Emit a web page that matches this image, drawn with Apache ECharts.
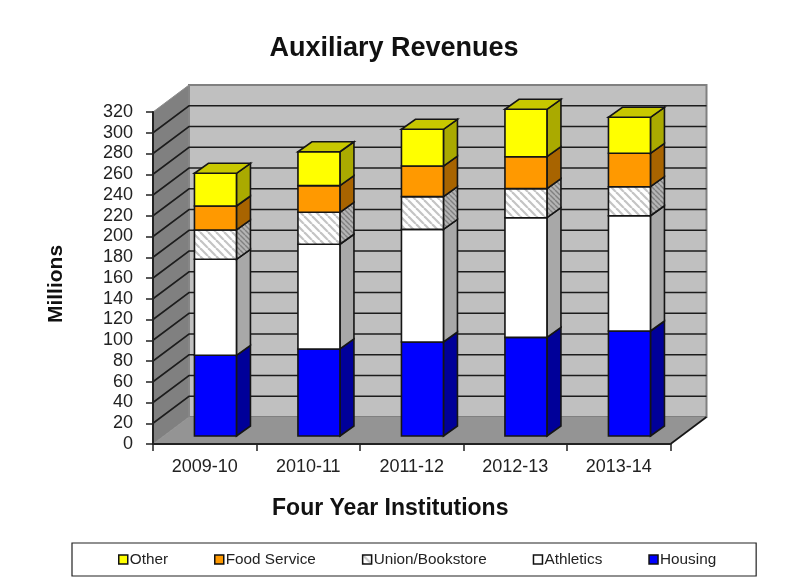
<!DOCTYPE html>
<html>
<head>
<meta charset="utf-8">
<style>html,body{margin:0;padding:0;background:#fff}#c{width:810px;height:584px}</style>
<script src="https://cdn.jsdelivr.net/npm/echarts@6/dist/echarts.min.js"></script>
</head>
<body>
<div id="c"></div>
<script>
const categories = ['2009-10','2010-11','2011-12','2012-13','2013-14'];
const housing   = [77.8, 83.9, 90.6, 95.1, 101.2];
const athletics = [92.5, 100.9, 108.6, 115.3, 111.1];
const union     = [28.3, 30.8, 31.5, 28.0, 28.0];
const food      = [23.1, 25.7, 29.5, 30.8, 32.2];
const other     = [31.5, 32.7, 35.4, 45.7, 34.7];
const gridTicks = [20,40,60,80,100,120,140,160,180,200,220,240,260,280,300];
const legendOrder = ['Other','Food Service','Union/Bookstore','Athletics','Housing'];

const WALL_DX = 36, WALL_DY = 27;      // depth of the chart box
const BAR_DX = 10.7, BAR_DY = 8;       // bar front inset from the front edge
const SIDE_DX = 14, SIDE_DY = 10;      // bar depth
const BAR_W = 42;
const INK = '#151515';

function hatch(bg, fg, period, lw) {
  const c = document.createElement('canvas');
  c.width = c.height = period;
  const g = c.getContext('2d');
  g.fillStyle = bg; g.fillRect(0,0,period,period);
  g.strokeStyle = fg; g.lineWidth = lw;
  [-period,0,period].forEach(o => {
    g.beginPath(); g.moveTo(o,0); g.lineTo(o+period,period); g.stroke();
  });
  return {image:c, repeat:'repeat'};
}
const frontHatch = hatch('#ffffff','#c4c4c4',8,2.2);
const sideHatch  = hatch('#b4b4b4','#808080',5,1.4);

const stacks = [
  {name:'Housing',         vals:housing,   front:'#0000ff', side:'#000099'},
  {name:'Athletics',       vals:athletics, front:'#ffffff', side:'#a8a8a8'},
  {name:'Union/Bookstore', vals:union,     front:frontHatch, side:sideHatch},
  {name:'Food Service',    vals:food,      front:'#ff9900', side:'#a86400'},
  {name:'Other',           vals:other,     front:'#ffff00', side:'#aaaa00', top:'#c8c800'}
];

function poly(points, fill, stroke, lw) {
  return {type:'polygon', shape:{points}, style:{fill, stroke:stroke||null, lineWidth:lw||0, lineJoin:'miter'}};
}

function renderWalls(params) {
  const s = params.coordSys, x0 = s.x, x1 = s.x+s.width, y0 = s.y, y1 = s.y+s.height;
  return {type:'group', children:[
    poly([[x0+WALL_DX,y0-WALL_DY],[x1+WALL_DX,y0-WALL_DY],[x1+WALL_DX,y1-WALL_DY],[x0+WALL_DX,y1-WALL_DY]],'#c0c0c0','#808080',2),
    poly([[x0,y0],[x0+WALL_DX,y0-WALL_DY],[x0+WALL_DX,y1-WALL_DY],[x0,y1]],'#808080','#8c8c8c',1),
    poly([[x0,y1],[x0+WALL_DX,y1-WALL_DY],[x1+WALL_DX,y1-WALL_DY],[x1,y1]],'#949494','#1a1a1a',0.01),
    {type:'line', shape:{x1:x1,y1:y1,x2:x1+WALL_DX,y2:y1-WALL_DY}, style:{stroke:INK,lineWidth:1.6}}
  ]};
}
function renderGrid(params, api) {
  const s = params.coordSys;
  const y = api.coord([0, api.value(1)])[1];
  return {type:'polyline', shape:{points:[[s.x,y],[s.x+WALL_DX,y-WALL_DY],[s.x+s.width+WALL_DX,y-WALL_DY]]},
          style:{fill:null, stroke:'#1c1c1c', lineWidth:1.6}};
}
function renderSeg(stack) {
  return function(params, api) {
    const c0 = api.coord([api.value(0), api.value(1)]);
    const c1 = api.coord([api.value(0), api.value(2)]);
    const xl = c0[0]+BAR_DX-BAR_W/2, xr = xl+BAR_W;
    const yb = c0[1]-BAR_DY, yt = c1[1]-BAR_DY;
    const kids = [
      poly([[xr,yb],[xr+SIDE_DX,yb-SIDE_DY],[xr+SIDE_DX,yt-SIDE_DY],[xr,yt]], stack.side, INK, 1.6),
      poly([[xl,yb],[xr,yb],[xr,yt],[xl,yt]], stack.front, INK, 1.6)
    ];
    if (stack.top) kids.push(poly([[xl,yt],[xr,yt],[xr+SIDE_DX,yt-SIDE_DY],[xl+SIDE_DX,yt-SIDE_DY]], stack.top, INK, 1.6));
    return {type:'group', children:kids};
  };
}

const series = [
  {type:'custom', name:'walls', z:1, silent:true, clip:false, renderItem:renderWalls, data:[[0,0]], encode:{x:0,y:1}},
  {type:'custom', name:'grid', z:1, silent:true, clip:false, renderItem:renderGrid, data:gridTicks.map(v=>[0,v]), encode:{x:0,y:1}}
];
const base = categories.map(()=>0);
stacks.forEach(st => {
  const data = categories.map((_,i)=>{ const b=base[i]; base[i]+=st.vals[i]; return [i,b,base[i]]; });
  series.push({type:'custom', name:st.name, z:3, clip:false, renderItem:renderSeg(st), data,
    encode:{x:0,y:2}, itemStyle:{color:st.front}});
});

const font = '"Liberation Sans", Arial, sans-serif';
const chart = echarts.init(document.getElementById('c'), null, {renderer:'canvas'});
chart.setOption({
  animation:false,
  backgroundColor:'#ffffff',
  title:{text:'Auxiliary Revenues', left:389, top:30, textAlign:'center',
    textStyle:{fontFamily:font,fontSize:27,fontWeight:'bold',color:'#111'}},
  grid:{left:153, right:139.5, top:112, bottom:140, containLabel:false},
  legend:{data:legendOrder, left:72, top:543, orient:'horizontal', itemWidth:9, itemHeight:9, itemGap:46,
    padding:[9,40,9,46], borderColor:'#222', borderWidth:1.2, icon:'rect',
    itemStyle:{borderColor:'#111',borderWidth:1.5},
    textStyle:{fontFamily:font,fontSize:15.3,color:'#222',padding:[0,0,0,-3]}},
  xAxis:{type:'category', data:categories, boundaryGap:true, z:10,
    name:'Four Year Institutions', nameLocation:'middle', nameGap:53,
    nameTextStyle:{fontFamily:font,fontSize:23,fontWeight:'bold',color:'#111',padding:[0,43,0,0]},
    axisLine:{lineStyle:{color:'#222',width:2}},
    axisTick:{show:true,length:7,lineStyle:{color:'#222',width:1.5}},
    axisLabel:{fontFamily:font,fontSize:18,color:'#222',margin:14}},
  yAxis:{type:'value', min:0, max:320, interval:20, z:10,
    name:'Millions', nameLocation:'middle', nameGap:86, nameRotate:90,
    nameTextStyle:{fontFamily:font,fontSize:21,fontWeight:'bold',color:'#111',padding:[0,12,0,0]},
    axisLine:{show:true,lineStyle:{color:'#222',width:2}},
    axisTick:{show:true,length:7,lineStyle:{color:'#222',width:1.5}},
    splitLine:{show:false},
    axisLabel:{fontFamily:font,fontSize:18,color:'#222',margin:20}},
  series
});
</script>
</body>
</html>
